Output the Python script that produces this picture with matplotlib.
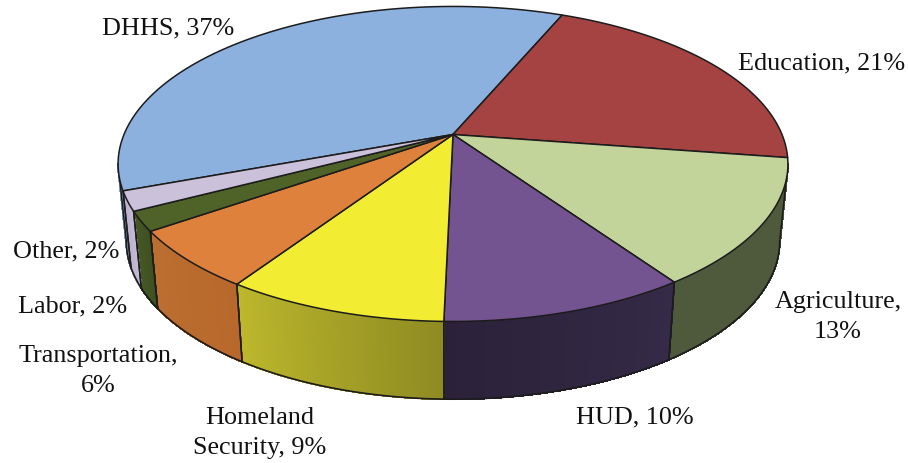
import numpy as np
import matplotlib
matplotlib.use("Agg")
import matplotlib.pyplot as plt
from matplotlib.patches import Polygon
from matplotlib.colors import to_rgb

labels = ["DHHS", "Education", "Agriculture", "HUD", "Homeland Security", "Transportation", "Labor", "Other"]
shares = [37, 21, 13, 10, 9, 6, 2, 2]
top_colors = ["#8cb1df", "#a54343", "#c3d49b", "#735390", "#f2ec33", "#dd813c", "#4f6228", "#ccc1da"]
side_left = ["#7f9fc8", "#7d3030", "#4f5a3d", "#2b2139", "#bdb82c", "#bb6f30", "#465a24", "#b8aecb"]
side_right = ["#7f9fc8", "#7d3030", "#4f5a3d", "#352a47", "#8f8b22", "#b8682c", "#3f5022", "#c4bad6"]

START_ANGLE = 200.3
CX = 453.0
K = 0.187
TOP = dict(a=329.0, b=152.0, c=135.5)
BOT = dict(a=321.0, b=153.0, c=212.0)
EDGE = "#1c1c1c"


def project(theta_deg, p):
    t = np.radians(theta_deg)
    x, y = np.cos(t), np.sin(t)
    w = 1 + K * y
    return CX + p["a"] * x / w, p["c"] - p["b"] * y / w


fig = plt.figure(figsize=(9.08, 4.64), dpi=100)
ax = fig.add_axes([0, 0, 1, 1])
ax.set_xlim(0, 908)
ax.set_ylim(464, 0)
ax.axis("off")

total = sum(shares)
edges = START_ANGLE - np.cumsum([0] + shares) * 360.0 / total
VIS_A, VIS_B = 190.8, 349.2


def front_range(a0, a1):
    a0m, a1m = a0 % 360, a1 % 360
    if a0m < a1m:
        a0m += 360
    hi = min(a0m, VIS_B)
    lo = max(a1m, VIS_A)
    return (lo, hi) if hi > lo else None


# side walls
for i in range(len(shares)):
    a0, a1 = edges[i], edges[i + 1]
    rng = front_range(a0, a1)
    if rng is None:
        continue
    lo, hi = rng
    cl, cr = np.array(to_rgb(side_left[i])), np.array(to_rgb(side_right[i]))
    n = max(2, int((hi - lo) * 2))
    grid = np.linspace(lo, hi, n + 1)
    for j in range(n):
        u = (j + 0.5) / n
        col = cl * (1 - u) + cr * u
        g = np.linspace(grid[j], grid[j + 1], 3)
        tx, ty = project(g, TOP)
        bx, by = project(g, BOT)
        pts = np.column_stack([np.r_[tx, bx[::-1]], np.r_[ty, by[::-1]]])
        ax.add_patch(Polygon(pts, closed=True, fc=col, ec=col, lw=0.8,
                             antialiased=False, zorder=2))
for i in range(len(shares)):
    rng = front_range(edges[i], edges[i + 1])
    if rng is None:
        continue
    lo, hi = rng
    g = np.linspace(lo, hi, 80)
    bx, by = project(g, BOT)
    ax.plot(bx, by, color=EDGE, lw=1.2, zorder=3, solid_capstyle="round")
    for a in (lo, hi):
        tx, ty = project(a, TOP)
        bx, by = project(a, BOT)
        ax.plot([tx, bx], [ty, by], color=EDGE, lw=1.1, zorder=3)

# top faces
for i in range(len(shares)):
    g = np.linspace(edges[i], edges[i + 1], 200)
    xs, ys = project(g, TOP)
    pts = np.column_stack([np.r_[CX, xs], np.r_[TOP["c"], ys]])
    ax.add_patch(Polygon(pts, closed=True, fc=top_colors[i], ec=EDGE, lw=1.1,
                         joinstyle="round", zorder=4))

font = dict(family="Liberation Serif", fontsize=18.8, color="#111111",
            linespacing=1.48, zorder=6)
ax.text(168.5, 28, f"{labels[0]}, {shares[0]}%", ha="center", va="center", **font)
ax.text(821.5, 63, f"{labels[1]}, {shares[1]}%", ha="center", va="center", **font)
ax.text(838, 317, f"{labels[2]},\n{shares[2]}%", ha="center", va="center", **font)
ax.text(635, 417, f"{labels[3]}, {shares[3]}%", ha="center", va="center", **font)
ax.text(260, 433, f"Homeland\nSecurity, {shares[4]}%", ha="center", va="center", **font)
ax.text(98.5, 371, f"{labels[5]},\n{shares[5]}%", ha="center", va="center", **font)
ax.text(72.5, 306, f"{labels[6]}, {shares[6]}%", ha="center", va="center", **font)
ax.text(66, 251, f"{labels[7]}, {shares[7]}%", ha="center", va="center", **font)

fig.savefig("out.png", dpi=100, facecolor="white")
